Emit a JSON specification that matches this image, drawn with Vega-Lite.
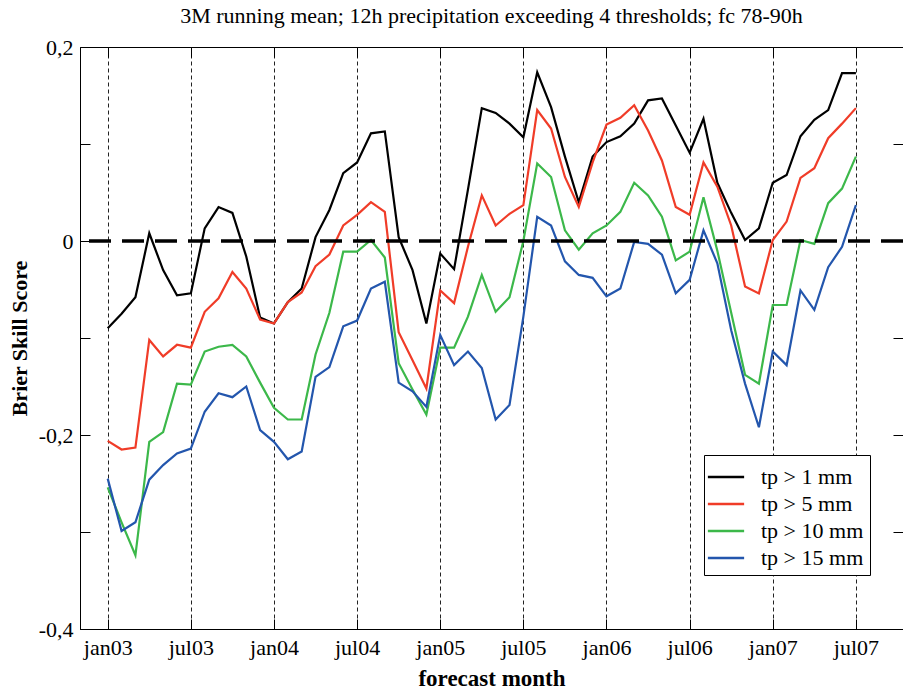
{
  "$schema": "https://vega.github.io/schema/vega-lite/v6.json",
  "width": 823,
  "height": 582,
  "autosize": {"type": "none"},
  "padding": {"left": 80, "top": 47, "right": 0, "bottom": 61},
  "background": "white",
  "config": {
    "view": {"stroke": "black", "strokeWidth": 1},
    "font": "Liberation Serif",
    "axis": {"labelFont": "Liberation Serif", "titleFont": "Liberation Serif", "labelColor": "black", "titleColor": "black", "domainColor": "black", "tickColor": "black"}
  },
  "title": {"text": "3M running mean; 12h precipitation exceeding 4 thresholds; fc 78-90h", "font": "Liberation Serif", "fontSize": 22, "fontWeight": "normal", "anchor": "middle", "offset": 8, "color": "black"},
  "datasets": {
    "bss": [
      {"m":0,"s":"tp > 1 mm","v":-0.090},{"m":1,"s":"tp > 1 mm","v":-0.075},{"m":2,"s":"tp > 1 mm","v":-0.058},{"m":3,"s":"tp > 1 mm","v":0.008},{"m":4,"s":"tp > 1 mm","v":-0.030},{"m":5,"s":"tp > 1 mm","v":-0.056},{"m":6,"s":"tp > 1 mm","v":-0.054},{"m":7,"s":"tp > 1 mm","v":0.013},{"m":8,"s":"tp > 1 mm","v":0.035},{"m":9,"s":"tp > 1 mm","v":0.029},{"m":10,"s":"tp > 1 mm","v":-0.016},{"m":11,"s":"tp > 1 mm","v":-0.079},{"m":12,"s":"tp > 1 mm","v":-0.085},{"m":13,"s":"tp > 1 mm","v":-0.063},{"m":14,"s":"tp > 1 mm","v":-0.049},{"m":15,"s":"tp > 1 mm","v":0.004},{"m":16,"s":"tp > 1 mm","v":0.032},{"m":17,"s":"tp > 1 mm","v":0.070},{"m":18,"s":"tp > 1 mm","v":0.081},{"m":19,"s":"tp > 1 mm","v":0.111},{"m":20,"s":"tp > 1 mm","v":0.113},{"m":21,"s":"tp > 1 mm","v":0.004},{"m":22,"s":"tp > 1 mm","v":-0.030},{"m":23,"s":"tp > 1 mm","v":-0.085},{"m":24,"s":"tp > 1 mm","v":-0.013},{"m":25,"s":"tp > 1 mm","v":-0.029},{"m":26,"s":"tp > 1 mm","v":0.053},{"m":27,"s":"tp > 1 mm","v":0.137},{"m":28,"s":"tp > 1 mm","v":0.132},{"m":29,"s":"tp > 1 mm","v":0.121},{"m":30,"s":"tp > 1 mm","v":0.107},{"m":31,"s":"tp > 1 mm","v":0.174},{"m":32,"s":"tp > 1 mm","v":0.138},{"m":33,"s":"tp > 1 mm","v":0.087},{"m":34,"s":"tp > 1 mm","v":0.040},{"m":35,"s":"tp > 1 mm","v":0.087},{"m":36,"s":"tp > 1 mm","v":0.102},{"m":37,"s":"tp > 1 mm","v":0.108},{"m":38,"s":"tp > 1 mm","v":0.121},{"m":39,"s":"tp > 1 mm","v":0.145},{"m":40,"s":"tp > 1 mm","v":0.147},{"m":41,"s":"tp > 1 mm","v":0.119},{"m":42,"s":"tp > 1 mm","v":0.091},{"m":43,"s":"tp > 1 mm","v":0.126},{"m":44,"s":"tp > 1 mm","v":0.060},{"m":45,"s":"tp > 1 mm","v":0.029},{"m":46,"s":"tp > 1 mm","v":0.001},{"m":47,"s":"tp > 1 mm","v":0.013},{"m":48,"s":"tp > 1 mm","v":0.060},{"m":49,"s":"tp > 1 mm","v":0.068},{"m":50,"s":"tp > 1 mm","v":0.108},{"m":51,"s":"tp > 1 mm","v":0.125},{"m":52,"s":"tp > 1 mm","v":0.135},{"m":53,"s":"tp > 1 mm","v":0.173},{"m":54,"s":"tp > 1 mm","v":0.173},
      {"m":0,"s":"tp > 5 mm","v":-0.206},{"m":1,"s":"tp > 5 mm","v":-0.215},{"m":2,"s":"tp > 5 mm","v":-0.213},{"m":3,"s":"tp > 5 mm","v":-0.102},{"m":4,"s":"tp > 5 mm","v":-0.119},{"m":5,"s":"tp > 5 mm","v":-0.107},{"m":6,"s":"tp > 5 mm","v":-0.110},{"m":7,"s":"tp > 5 mm","v":-0.073},{"m":8,"s":"tp > 5 mm","v":-0.059},{"m":9,"s":"tp > 5 mm","v":-0.032},{"m":10,"s":"tp > 5 mm","v":-0.049},{"m":11,"s":"tp > 5 mm","v":-0.081},{"m":12,"s":"tp > 5 mm","v":-0.085},{"m":13,"s":"tp > 5 mm","v":-0.063},{"m":14,"s":"tp > 5 mm","v":-0.053},{"m":15,"s":"tp > 5 mm","v":-0.026},{"m":16,"s":"tp > 5 mm","v":-0.014},{"m":17,"s":"tp > 5 mm","v":0.016},{"m":18,"s":"tp > 5 mm","v":0.027},{"m":19,"s":"tp > 5 mm","v":0.040},{"m":20,"s":"tp > 5 mm","v":0.030},{"m":21,"s":"tp > 5 mm","v":-0.094},{"m":22,"s":"tp > 5 mm","v":-0.123},{"m":23,"s":"tp > 5 mm","v":-0.152},{"m":24,"s":"tp > 5 mm","v":-0.051},{"m":25,"s":"tp > 5 mm","v":-0.064},{"m":26,"s":"tp > 5 mm","v":-0.006},{"m":27,"s":"tp > 5 mm","v":0.047},{"m":28,"s":"tp > 5 mm","v":0.016},{"m":29,"s":"tp > 5 mm","v":0.028},{"m":30,"s":"tp > 5 mm","v":0.037},{"m":31,"s":"tp > 5 mm","v":0.135},{"m":32,"s":"tp > 5 mm","v":0.116},{"m":33,"s":"tp > 5 mm","v":0.066},{"m":34,"s":"tp > 5 mm","v":0.035},{"m":35,"s":"tp > 5 mm","v":0.081},{"m":36,"s":"tp > 5 mm","v":0.120},{"m":37,"s":"tp > 5 mm","v":0.127},{"m":38,"s":"tp > 5 mm","v":0.140},{"m":39,"s":"tp > 5 mm","v":0.114},{"m":40,"s":"tp > 5 mm","v":0.083},{"m":41,"s":"tp > 5 mm","v":0.035},{"m":42,"s":"tp > 5 mm","v":0.027},{"m":43,"s":"tp > 5 mm","v":0.081},{"m":44,"s":"tp > 5 mm","v":0.056},{"m":45,"s":"tp > 5 mm","v":0.016},{"m":46,"s":"tp > 5 mm","v":-0.047},{"m":47,"s":"tp > 5 mm","v":-0.054},{"m":48,"s":"tp > 5 mm","v":0.001},{"m":49,"s":"tp > 5 mm","v":0.020},{"m":50,"s":"tp > 5 mm","v":0.065},{"m":51,"s":"tp > 5 mm","v":0.075},{"m":52,"s":"tp > 5 mm","v":0.106},{"m":53,"s":"tp > 5 mm","v":0.121},{"m":54,"s":"tp > 5 mm","v":0.137},
      {"m":0,"s":"tp > 10 mm","v":-0.254},{"m":1,"s":"tp > 10 mm","v":-0.290},{"m":2,"s":"tp > 10 mm","v":-0.324},{"m":3,"s":"tp > 10 mm","v":-0.207},{"m":4,"s":"tp > 10 mm","v":-0.197},{"m":5,"s":"tp > 10 mm","v":-0.147},{"m":6,"s":"tp > 10 mm","v":-0.148},{"m":7,"s":"tp > 10 mm","v":-0.114},{"m":8,"s":"tp > 10 mm","v":-0.109},{"m":9,"s":"tp > 10 mm","v":-0.107},{"m":10,"s":"tp > 10 mm","v":-0.119},{"m":11,"s":"tp > 10 mm","v":-0.146},{"m":12,"s":"tp > 10 mm","v":-0.172},{"m":13,"s":"tp > 10 mm","v":-0.184},{"m":14,"s":"tp > 10 mm","v":-0.184},{"m":15,"s":"tp > 10 mm","v":-0.117},{"m":16,"s":"tp > 10 mm","v":-0.074},{"m":17,"s":"tp > 10 mm","v":-0.011},{"m":18,"s":"tp > 10 mm","v":-0.011},{"m":19,"s":"tp > 10 mm","v":0.001},{"m":20,"s":"tp > 10 mm","v":-0.017},{"m":21,"s":"tp > 10 mm","v":-0.126},{"m":22,"s":"tp > 10 mm","v":-0.153},{"m":23,"s":"tp > 10 mm","v":-0.179},{"m":24,"s":"tp > 10 mm","v":-0.110},{"m":25,"s":"tp > 10 mm","v":-0.110},{"m":26,"s":"tp > 10 mm","v":-0.078},{"m":27,"s":"tp > 10 mm","v":-0.035},{"m":28,"s":"tp > 10 mm","v":-0.073},{"m":29,"s":"tp > 10 mm","v":-0.058},{"m":30,"s":"tp > 10 mm","v":0.000},{"m":31,"s":"tp > 10 mm","v":0.080},{"m":32,"s":"tp > 10 mm","v":0.066},{"m":33,"s":"tp > 10 mm","v":0.011},{"m":34,"s":"tp > 10 mm","v":-0.009},{"m":35,"s":"tp > 10 mm","v":0.008},{"m":36,"s":"tp > 10 mm","v":0.016},{"m":37,"s":"tp > 10 mm","v":0.030},{"m":38,"s":"tp > 10 mm","v":0.060},{"m":39,"s":"tp > 10 mm","v":0.047},{"m":40,"s":"tp > 10 mm","v":0.025},{"m":41,"s":"tp > 10 mm","v":-0.020},{"m":42,"s":"tp > 10 mm","v":-0.011},{"m":43,"s":"tp > 10 mm","v":0.045},{"m":44,"s":"tp > 10 mm","v":-0.010},{"m":45,"s":"tp > 10 mm","v":-0.074},{"m":46,"s":"tp > 10 mm","v":-0.138},{"m":47,"s":"tp > 10 mm","v":-0.147},{"m":48,"s":"tp > 10 mm","v":-0.066},{"m":49,"s":"tp > 10 mm","v":-0.066},{"m":50,"s":"tp > 10 mm","v":0.001},{"m":51,"s":"tp > 10 mm","v":-0.003},{"m":52,"s":"tp > 10 mm","v":0.039},{"m":53,"s":"tp > 10 mm","v":0.054},{"m":54,"s":"tp > 10 mm","v":0.087},
      {"m":0,"s":"tp > 15 mm","v":-0.245},{"m":1,"s":"tp > 15 mm","v":-0.299},{"m":2,"s":"tp > 15 mm","v":-0.290},{"m":3,"s":"tp > 15 mm","v":-0.246},{"m":4,"s":"tp > 15 mm","v":-0.231},{"m":5,"s":"tp > 15 mm","v":-0.219},{"m":6,"s":"tp > 15 mm","v":-0.214},{"m":7,"s":"tp > 15 mm","v":-0.176},{"m":8,"s":"tp > 15 mm","v":-0.157},{"m":9,"s":"tp > 15 mm","v":-0.161},{"m":10,"s":"tp > 15 mm","v":-0.150},{"m":11,"s":"tp > 15 mm","v":-0.195},{"m":12,"s":"tp > 15 mm","v":-0.207},{"m":13,"s":"tp > 15 mm","v":-0.225},{"m":14,"s":"tp > 15 mm","v":-0.217},{"m":15,"s":"tp > 15 mm","v":-0.140},{"m":16,"s":"tp > 15 mm","v":-0.130},{"m":17,"s":"tp > 15 mm","v":-0.088},{"m":18,"s":"tp > 15 mm","v":-0.082},{"m":19,"s":"tp > 15 mm","v":-0.049},{"m":20,"s":"tp > 15 mm","v":-0.042},{"m":21,"s":"tp > 15 mm","v":-0.146},{"m":22,"s":"tp > 15 mm","v":-0.155},{"m":23,"s":"tp > 15 mm","v":-0.171},{"m":24,"s":"tp > 15 mm","v":-0.097},{"m":25,"s":"tp > 15 mm","v":-0.128},{"m":26,"s":"tp > 15 mm","v":-0.114},{"m":27,"s":"tp > 15 mm","v":-0.131},{"m":28,"s":"tp > 15 mm","v":-0.184},{"m":29,"s":"tp > 15 mm","v":-0.169},{"m":30,"s":"tp > 15 mm","v":-0.078},{"m":31,"s":"tp > 15 mm","v":0.025},{"m":32,"s":"tp > 15 mm","v":0.016},{"m":33,"s":"tp > 15 mm","v":-0.021},{"m":34,"s":"tp > 15 mm","v":-0.035},{"m":35,"s":"tp > 15 mm","v":-0.038},{"m":36,"s":"tp > 15 mm","v":-0.057},{"m":37,"s":"tp > 15 mm","v":-0.049},{"m":38,"s":"tp > 15 mm","v":-0.001},{"m":39,"s":"tp > 15 mm","v":-0.003},{"m":40,"s":"tp > 15 mm","v":-0.014},{"m":41,"s":"tp > 15 mm","v":-0.054},{"m":42,"s":"tp > 15 mm","v":-0.040},{"m":43,"s":"tp > 15 mm","v":0.011},{"m":44,"s":"tp > 15 mm","v":-0.023},{"m":45,"s":"tp > 15 mm","v":-0.092},{"m":46,"s":"tp > 15 mm","v":-0.147},{"m":47,"s":"tp > 15 mm","v":-0.192},{"m":48,"s":"tp > 15 mm","v":-0.114},{"m":49,"s":"tp > 15 mm","v":-0.128},{"m":50,"s":"tp > 15 mm","v":-0.051},{"m":51,"s":"tp > 15 mm","v":-0.071},{"m":52,"s":"tp > 15 mm","v":-0.027},{"m":53,"s":"tp > 15 mm","v":-0.006},{"m":54,"s":"tp > 15 mm","v":0.037}
    ],
    "zero": [{"z": 0}]
  },
  "layer": [
    {
      "data": {"name": "bss"},
      "mark": {"type": "line", "strokeWidth": 2.2},
      "encoding": {
        "x": {"field": "m", "type": "quantitative",
          "scale": {"domain": [-2, 57.4], "nice": false, "zero": false},
          "axis": {"orient": "bottom", "values": [0, 6, 12, 18, 24, 30, 36, 42, 48, 54],
            "labelExpr": "['jan03','jul03','jan04','jul04','jan05','jul05','jan06','jul06','jan07','jul07'][round(datum.value/6)]",
            "labelFontSize": 22, "labelPadding": 18, "tickSize": -10, "tickWidth": 1,
            "grid": true, "gridDash": [4, 3], "gridColor": "#222222", "gridWidth": 1, "gridOpacity": 1,
            "title": "forecast month", "titleFontSize": 23, "titleFontWeight": "bold", "titlePadding": 9}},
        "y": {"field": "v", "type": "quantitative",
          "scale": {"domain": [-0.4, 0.2], "nice": false, "zero": false},
          "axis": {"orient": "left", "values": [-0.4, -0.3, -0.2, -0.1, 0, 0.1, 0.2],
            "labelExpr": "round(datum.value*10) % 2 != 0 ? '' : (round(datum.value*10) == 0 ? '0' : (datum.value < 0 ? '-' : '') + '0,' + abs(round(datum.value*10)))",
            "labelFontSize": 22, "labelPadding": 17, "tickSize": -10, "tickWidth": 1, "grid": false,
            "title": "Brier Skill Score", "titleFontSize": 22, "titleFontWeight": "bold", "titlePadding": 7}},
        "color": {"field": "s", "type": "nominal",
          "scale": {"domain": ["tp > 1 mm", "tp > 5 mm", "tp > 10 mm", "tp > 15 mm"], "range": ["#000000", "#f03c28", "#3cb84a", "#2356ad"]},
          "legend": {"orient": "none", "legendX": 624, "legendY": 408, "title": null,
            "symbolType": "M-1.25,0H1.25", "symbolSize": 841, "symbolStrokeWidth": 2.5, "symbolFillColor": "transparent",
            "labelFont": "Liberation Serif", "labelFontSize": 22, "labelColor": "black", "labelOffset": 19,
            "rowPadding": 0, "padding": 6, "strokeColor": "black", "fillColor": "white", "cornerRadius": 0}}
      }
    },
    {
      "data": {"name": "zero"},
      "mark": {"type": "rule", "color": "black", "strokeWidth": 3.5, "strokeDash": [22, 11]},
      "encoding": {"y": {"field": "z", "type": "quantitative", "axis": null}}
    },
    {
      "data": {"name": "bss"},
      "mark": {"type": "point", "opacity": 0},
      "encoding": {
        "x": {"field": "m", "type": "quantitative",
          "axis": {"orient": "top", "values": [0, 6, 12, 18, 24, 30, 36, 42, 48, 54], "labels": false, "tickSize": -10, "grid": false, "title": null, "domain": false}},
        "y": {"field": "v", "type": "quantitative",
          "axis": {"orient": "right", "values": [-0.4, -0.3, -0.2, -0.1, 0, 0.1, 0.2], "labels": false, "tickSize": -10, "grid": false, "title": null, "domain": false}}
      }
    }
  ],
  "resolve": {"axis": {"x": "independent", "y": "independent"}}
}
